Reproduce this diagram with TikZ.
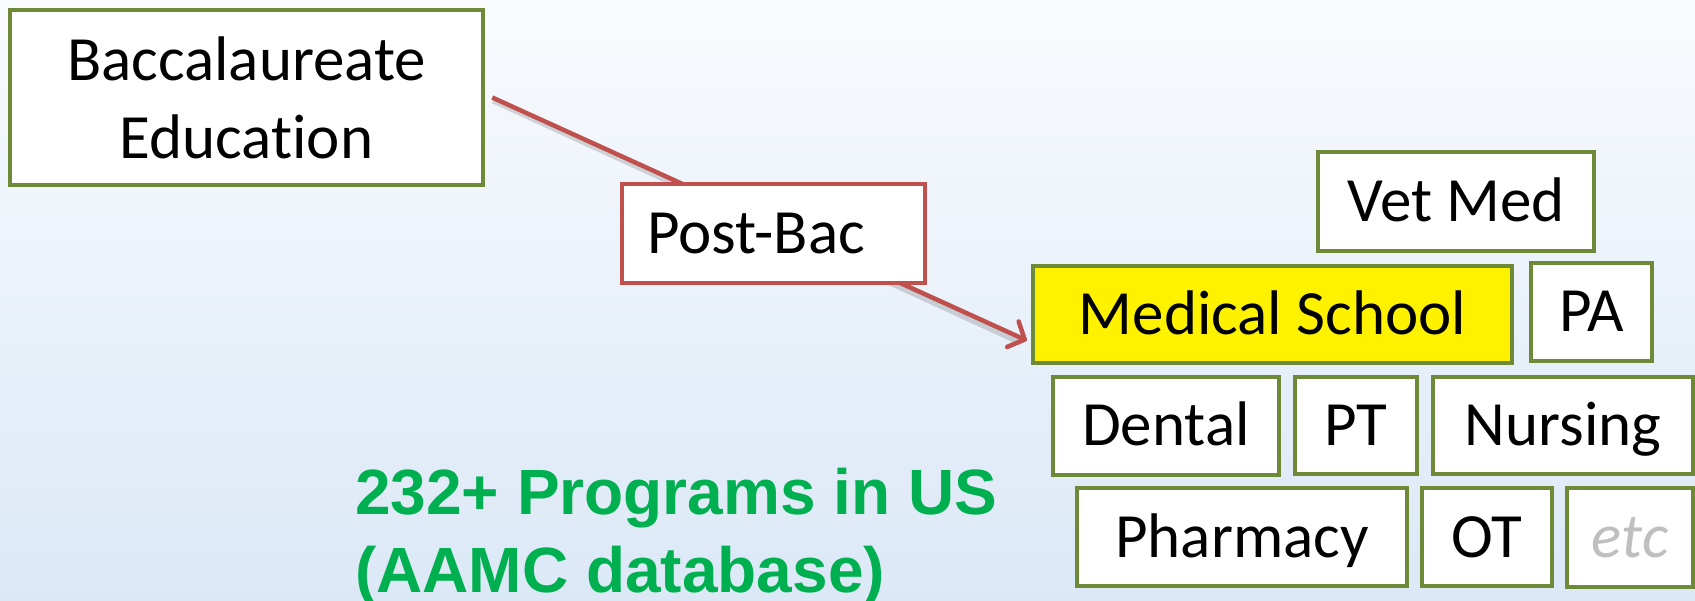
\documentclass[tikz,border=0pt]{standalone}
\usepackage{fontspec}
\setmainfont{Carlito}[Ligatures={NoCommon}]
\newfontfamily\greenfont{Liberation Sans}
\usetikzlibrary{arrows.meta,calc}
\definecolor{boxgreen}{RGB}{110,138,56}
\definecolor{boxred}{RGB}{192,80,77}
\definecolor{txtgreen}{RGB}{0,176,80}
\definecolor{etcgray}{RGB}{191,191,191}
\definecolor{bgtop}{RGB}{249,251,254}
\definecolor{bgbot}{RGB}{219,232,246}
\begin{document}
\begin{tikzpicture}[x=1pt,y=-1pt,
  boxbase/.style={draw=boxgreen, line width=4.5pt, fill=white, inner sep=0pt,
    font=\fontsize{63}{78}\selectfont},
  prog/.style={boxbase, text height=40pt, text depth=0pt},
  connector/.style={boxred, line width=4.5pt,
    -{Straight Barb[length=13pt,width=28pt,round]}},
]
\shade[top color=bgtop, bottom color=bgbot] (0,0) rectangle (1695,601);
\useasboundingbox (0,0) rectangle (1695,601);

\node[boxbase, minimum width=473pt, minimum height=175pt, align=center] (bacc) at (246.5,97.5) {Baccalaureate\\Education};

\node[prog, minimum width=276pt, minimum height=99pt] (vet) at (1456,201.5) {Vet Med};
\node[prog, fill=yellow, minimum width=479pt, minimum height=97pt] (med) at (1272.5,314.5) {Medical School};
\node[prog, minimum width=121pt, minimum height=98pt] (pa) at (1591.5,312) {PA};
\node[prog, minimum width=226pt, minimum height=98pt] (dental) at (1166,426) {Dental};
\node[prog, minimum width=122pt, minimum height=97pt] (pt) at (1356,425.5) {PT};
\node[prog, minimum width=260pt, minimum height=97pt] (nursing) at (1563,425.5) {Nursing};
\node[prog, minimum width=330pt, minimum height=98pt] (pharm) at (1242,537) {Pharmacy};
\node[prog, minimum width=130pt, minimum height=98pt] (ot) at (1487,537) {OT};
\node[prog, minimum width=126pt, minimum height=99pt, text=etcgray, font=\fontsize{63}{78}\selectfont\itshape] (etc) at (1630,537.5) {etc};

\draw[black, opacity=0.15, line width=6pt] ($(bacc.east)+(8,3)$) -- ($(med.west)+(-10,28)$);
\draw[connector] ($(bacc.east)+(7,0)$) -- ($(med.west)+(-4,26)$);

\node[boxbase, draw=boxred, inner xsep=25pt, text width=253pt, align=left, text height=40pt, text depth=0pt, minimum height=99pt] (postbac) at (773.5,233.5) {Post-Bac};

\node[font=\greenfont\bfseries\fontsize{64}{78}\selectfont, text=txtgreen, align=left, anchor=north west, inner sep=0pt] (count) at (355,468) {232+ Programs in US\\(AAMC database)};
\end{tikzpicture}
\end{document}
